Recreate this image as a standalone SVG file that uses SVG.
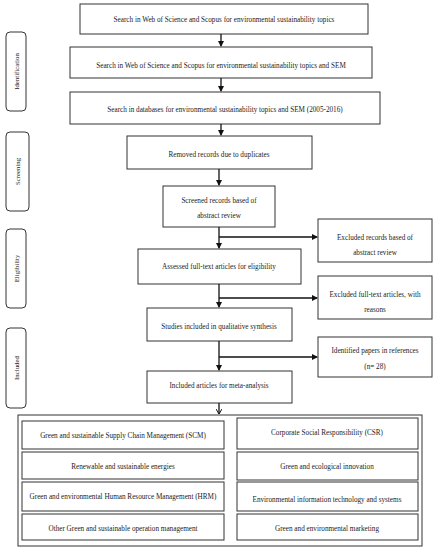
<svg xmlns="http://www.w3.org/2000/svg" width="435" height="550" viewBox="0 0 435 550">
<style>
.b{fill:#fff;stroke:#333;stroke-width:1}
.s{fill:#fff;stroke:#333;stroke-width:1}
.t{font-family:"Liberation Serif","Times New Roman",serif;font-size:7.2px;fill:#222;text-anchor:middle}
.st{font-family:"Liberation Serif","Times New Roman",serif;font-size:6.8px;fill:#222;text-anchor:middle}
.c{fill:none;stroke:#111;stroke-width:1.3}
</style>
<defs>
<marker id="ah" markerWidth="6" markerHeight="6" refX="5" refY="3" orient="auto" markerUnits="userSpaceOnUse">
<path d="M0,0 L6,3 L0,6 z" fill="#111"/>
</marker>
<marker id="ao" markerWidth="6" markerHeight="6" refX="5" refY="3" orient="auto" markerUnits="userSpaceOnUse">
<path d="M0,0 L5,3 L0,6" fill="none" stroke="#111" stroke-width="1"/>
</marker>
</defs>
<rect width="435" height="550" fill="#fff"/>

<g id="stage-identification"><rect class="s" x="6" y="32" width="20" height="79" rx="4"/><text class="st" transform="translate(18.5,71.5) rotate(-90)">Identification</text></g>
<g id="stage-screening"><rect class="s" x="6" y="132" width="23" height="79" rx="4"/><text class="st" transform="translate(19.5,171.5) rotate(-90)">Screening</text></g>
<g id="stage-eligibility"><rect class="s" x="6" y="229" width="20" height="79" rx="4"/><text class="st" transform="translate(18.5,268.5) rotate(-90)">Eligibility</text></g>
<g id="stage-included"><rect class="s" x="6" y="328" width="20" height="80" rx="4"/><text class="st" transform="translate(18.5,368) rotate(-90)">Included</text></g>

<g id="n1"><rect class="b" x="80" y="4" width="288" height="30"/><text class="t" x="224" y="21.5">Search in Web of Science and Scopus for environmental sustainability topics</text></g>
<g id="n2"><rect class="b" x="70" y="47" width="302" height="31"/><text class="t" x="221" y="68">Search in Web of Science and Scopus for environmental sustainability topics and SEM</text></g>
<g id="n3"><rect class="b" x="70" y="92" width="310" height="32"/><text class="t" x="225" y="112">Search in databases for environmental sustainability topics and SEM (2005-2016)</text></g>
<g id="n4"><rect class="b" x="127" y="136" width="185" height="33"/><text class="t" x="219" y="157">Removed records due to duplicates</text></g>
<g id="n5"><rect class="b" x="163" y="186" width="112" height="41"/><text class="t" x="219" y="203">Screened records based of</text><text class="t" x="219" y="218">abstract review</text></g>
<g id="n6"><rect class="b" x="318" y="219" width="114" height="43"/><text class="t" x="375" y="240">Excluded records based of</text><text class="t" x="375" y="255">abstract review</text></g>
<g id="n7"><rect class="b" x="138" y="249" width="163" height="35"/><text class="t" x="219" y="269">Assessed full-text articles for eligibility</text></g>
<g id="n8"><rect class="b" x="318" y="276" width="114" height="43"/><text class="t" x="375" y="297">Excluded full-text articles, with</text><text class="t" x="375" y="312">reasons</text></g>
<g id="n9"><rect class="b" x="147" y="308" width="145" height="33"/><text class="t" x="219" y="329">Studies included in qualitative synthesis</text></g>
<g id="n10"><rect class="b" x="318" y="337" width="114" height="40"/><text class="t" x="375" y="353">Identified papers in references</text><text class="t" x="375" y="369">(n= 28)</text></g>
<g id="n11"><rect class="b" x="147" y="371" width="145" height="32"/><text class="t" x="219" y="388">Included articles for meta-analysis</text></g>

<g id="topics">
<rect class="b" x="18" y="415" width="404" height="131"/>
<g id="t1"><rect class="b" x="22" y="421" width="202" height="28"/><text class="t" x="123" y="438">Green and sustainable Supply Chain Management (SCM)</text></g>
<g id="t2"><rect class="b" x="22" y="452" width="202" height="27"/><text class="t" x="123" y="469">Renewable and sustainable energies</text></g>
<g id="t3"><rect class="b" x="22" y="482" width="202" height="29"/><text class="t" x="123" y="499">Green and environmental Human Resource Management (HRM)</text></g>
<g id="t4"><rect class="b" x="22" y="514" width="202" height="26"/><text class="t" x="123" y="531">Other Green and sustainable operation management</text></g>
<g id="t5"><rect class="b" x="237" y="418" width="181" height="31"/><text class="t" x="327" y="435">Corporate Social Responsibility (CSR)</text></g>
<g id="t6"><rect class="b" x="237" y="452" width="181" height="28"/><text class="t" x="327" y="469">Green and ecological innovation</text></g>
<g id="t7"><rect class="b" x="237" y="482" width="181" height="29"/><text class="t" x="327" y="502">Environmental information technology and systems</text></g>
<g id="t8"><rect class="b" x="237" y="514" width="181" height="26"/><text class="t" x="327" y="531">Green and environmental marketing</text></g>
</g>

<g id="connectors">
<line class="c" x1="221" y1="34" x2="221" y2="46" marker-end="url(#ah)"/>
<line class="c" x1="221" y1="78" x2="221" y2="91" marker-end="url(#ah)"/>
<line class="c" x1="221" y1="124" x2="221" y2="135" marker-end="url(#ah)"/>
<line class="c" x1="219" y1="169" x2="219" y2="185" marker-end="url(#ah)"/>
<line class="c" x1="219" y1="227" x2="219" y2="248" marker-end="url(#ah)"/>
<line class="c" x1="219" y1="237" x2="317" y2="237" marker-end="url(#ah)"/>
<line class="c" x1="219" y1="284" x2="219" y2="307" marker-end="url(#ah)"/>
<line class="c" x1="219" y1="298" x2="317" y2="298" marker-end="url(#ah)"/>
<line class="c" x1="219" y1="341" x2="219" y2="370" marker-end="url(#ah)"/>
<line class="c" x1="219" y1="357" x2="317" y2="357" marker-end="url(#ah)"/>
<line class="c" x1="219" y1="403" x2="219" y2="414" marker-end="url(#ao)"/>
</g>
</svg>
